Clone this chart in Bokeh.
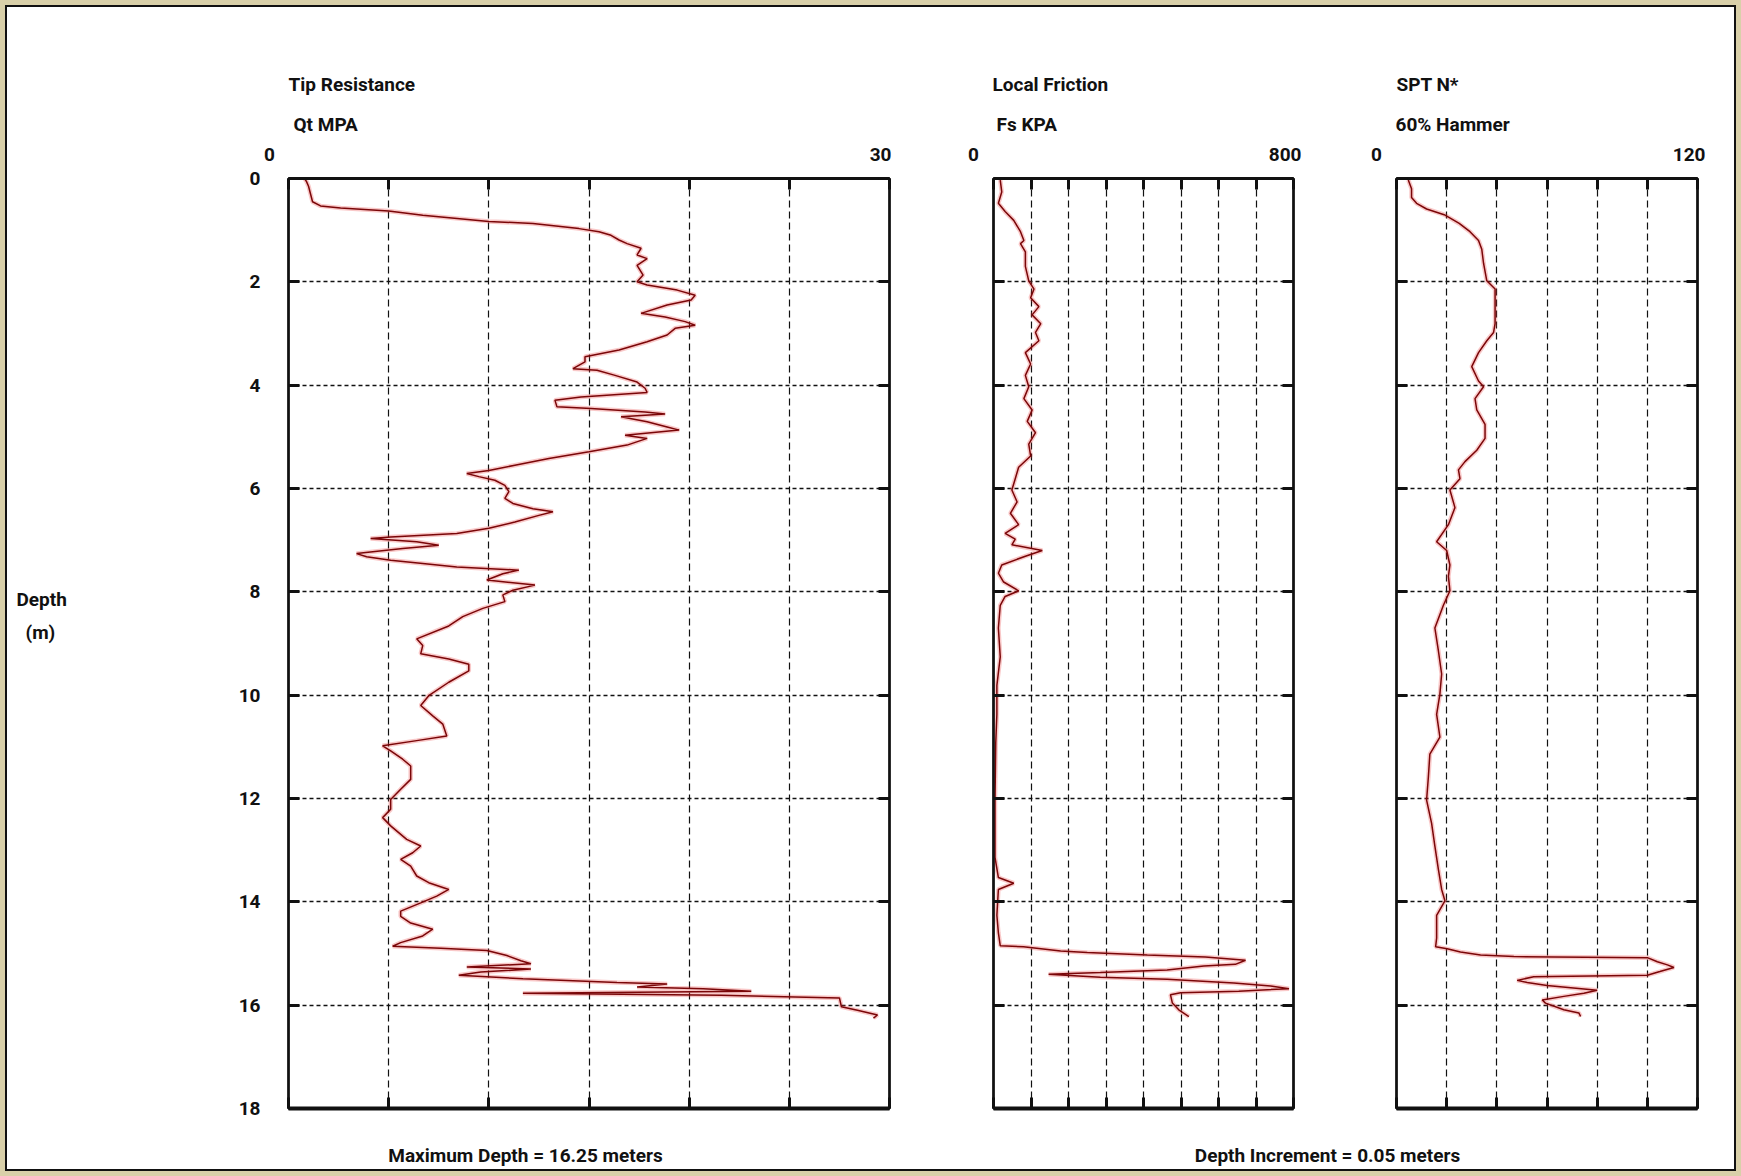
from bokeh.plotting import figure
from bokeh.models import Range1d, FixedTicker, LinearAxis, Label, CustomLabelingPolicy
from bokeh.layouts import row, column
from bokeh.embed import file_html
from bokeh.resources import INLINE

# ---------------- data ----------------
depth_ticks = [0, 2, 4, 6, 8, 10, 12, 14, 16, 18]
depth_grid = [2, 4, 6, 8, 10, 12, 14, 16]

qt_ticks = [0, 5, 10, 15, 20, 25, 30]
fs_ticks = [0, 100, 200, 300, 400, 500, 600, 700, 800]
spt_ticks = [0, 20, 40, 60, 80, 100, 120]

qt_depth = [0.00, 0.06, 0.15, 0.30, 0.45, 0.53, 0.57, 0.63, 0.71, 0.83, 0.87, 0.97, 1.03, 1.10, 1.19, 1.26,
            1.35, 1.48, 1.55, 1.68, 1.87, 2.00, 2.06, 2.16, 2.26, 2.35, 2.45, 2.61, 2.68, 2.77, 2.84, 2.90,
            3.03, 3.16, 3.32, 3.45, 3.55, 3.68, 3.71, 3.81, 3.94, 4.06, 4.14, 4.23, 4.29, 4.42, 4.45, 4.52,
            4.56, 4.61, 4.71, 4.81, 4.87, 4.97, 5.03, 5.16, 5.29, 5.42, 5.55, 5.65, 5.71, 5.77, 5.84, 5.94,
            6.06, 6.19, 6.29, 6.39, 6.45, 6.52, 6.65, 6.77, 6.87, 6.94, 6.97, 7.03, 7.10, 7.16, 7.26, 7.32,
            7.39, 7.45, 7.52, 7.58, 7.65, 7.77, 7.87, 7.97, 8.06, 8.19, 8.32, 8.48, 8.66, 8.91, 9.04, 9.20,
            9.30, 9.40, 9.53, 9.75, 10.01, 10.20, 10.40, 10.56, 10.79, 10.88, 10.98, 11.08, 11.24, 11.37,
            11.63, 11.82, 12.02, 12.21, 12.37, 12.53, 12.79, 12.92, 13.05, 13.18, 13.31, 13.50, 13.63, 13.76,
            13.89, 14.02, 14.18, 14.28, 14.41, 14.53, 14.66, 14.79, 14.86, 14.90, 14.94, 15.04, 15.14, 15.20,
            15.26, 15.30, 15.36, 15.42, 15.49, 15.56, 15.59, 15.65, 15.68, 15.73, 15.77, 15.81, 15.86, 16.03,
            16.10, 16.19, 16.25]
qt_value = [0.8, 0.9, 1.0, 1.1, 1.2, 1.6, 2.6, 5.0, 6.7, 10.0, 12.2, 14.5, 15.5, 16.1, 16.5, 16.9,
            17.6, 17.4, 17.9, 17.4, 17.7, 17.4, 17.9, 19.4, 20.3, 20.1, 18.9, 17.6, 18.8, 19.8, 20.3, 19.3,
            18.9, 17.9, 16.5, 14.8, 14.8, 14.2, 15.4, 16.3, 17.4, 17.8, 17.9, 14.6, 13.3, 13.4, 15.1, 17.8,
            18.8, 16.6, 17.9, 18.9, 19.5, 16.8, 17.9, 16.9, 15.0, 13.0, 11.3, 10.0, 8.9, 9.5, 10.3, 10.8,
            11.0, 10.8, 11.2, 12.2, 13.2, 12.5, 11.3, 10.0, 8.4, 5.1, 4.1, 6.4, 7.5, 5.7, 3.4, 3.9,
            5.1, 6.7, 8.4, 11.5, 10.7, 9.9, 12.3, 11.2, 10.7, 10.8, 9.7, 8.7, 8.0, 6.4, 6.7, 6.6,
            8.0, 9.0, 9.0, 8.0, 7.0, 6.6, 7.2, 7.7, 7.9, 6.4, 4.7, 5.1, 5.7, 6.1,
            6.1, 5.6, 5.1, 5.1, 4.7, 5.1, 5.9, 6.6, 6.2, 5.6, 6.1, 6.4, 7.0, 8.0,
            7.4, 6.6, 5.6, 5.6, 6.1, 7.2, 6.7, 5.6, 5.2, 7.6, 9.9, 10.9, 11.6, 12.1,
            8.9, 12.1, 9.6, 8.5, 11.7, 16.4, 18.9, 17.4, 20.7, 23.1, 11.7, 21.6, 27.5, 27.6,
            28.4, 29.4, 29.2]

fs_depth = [0.03, 0.26, 0.48, 0.64, 0.81, 1.03, 1.20, 1.26, 1.42, 1.70, 1.98, 2.14, 2.31, 2.48, 2.64, 2.81,
            2.98, 3.14, 3.37, 3.59, 3.81, 4.03, 4.26, 4.48, 4.70, 4.92, 5.14, 5.37, 5.59, 5.81, 6.03, 6.26,
            6.48, 6.70, 6.87, 6.98, 7.09, 7.20, 7.31, 7.48, 7.64, 7.81, 7.98, 8.09, 8.26, 8.70, 9.26, 9.81,
            10.37, 10.92, 12.03, 13.14, 13.53, 13.64, 13.76, 14.26, 14.60, 14.85, 14.87, 14.95, 14.98, 15.03,
            15.07, 15.13, 15.21, 15.24, 15.32, 15.37, 15.40, 15.46, 15.50, 15.57, 15.63, 15.68, 15.73, 15.76,
            15.80, 15.96, 16.09, 16.22]
fs_value = [18, 22, 13, 31, 54, 72, 81, 72, 85, 85, 94, 108, 99, 121, 103, 126,
            112, 121, 85, 99, 85, 94, 81, 103, 90, 112, 94, 99, 67, 58, 49, 63,
            45, 67, 31, 58, 49, 130, 85, 22, 13, 27, 67, 31, 18, 13, 18, 9,
            9, 6, 4, 4, 13, 54, 13, 9, 13, 18, 80, 179, 250, 410,
            565, 672, 645, 561, 463, 285, 147, 285, 463, 641, 739, 788, 654, 499,
            472, 477, 494, 521]

spt_depth = [0.03, 0.20, 0.37, 0.48, 0.59, 0.70, 0.87, 1.03, 1.20, 1.37, 1.64, 1.98, 2.14, 2.48, 2.81, 2.98,
             3.14, 3.37, 3.64, 3.92, 4.03, 4.26, 4.48, 4.76, 5.03, 5.26, 5.48, 5.64, 5.81, 6.03, 6.37, 6.70,
             7.03, 7.20, 7.48, 7.70, 7.98, 8.26, 8.70, 9.14, 9.59, 9.98, 10.37, 10.81, 11.14, 11.59, 12.03,
             12.48, 12.92, 13.37, 13.76, 13.98, 14.26, 14.70, 14.87, 14.91, 14.97, 15.03, 15.06, 15.08, 15.16,
             15.22, 15.27, 15.35, 15.42, 15.45, 15.52, 15.56, 15.62, 15.71, 15.77, 15.83, 15.90, 15.96, 16.09,
             16.15, 16.22]
spt_value = [4.7, 6.0, 6.0, 8.0, 12.0, 19.0, 25.0, 29.3, 32.7, 34.0, 34.7, 36.0, 39.3, 39.3, 39.3, 38.7,
             36.0, 32.7, 30.0, 32.7, 34.7, 31.3, 32.0, 35.3, 35.3, 32.0, 27.3, 24.7, 25.3, 21.3, 23.3, 20.7,
             16.0, 20.0, 21.3, 20.7, 21.3, 18.7, 15.3, 16.7, 18.0, 17.3, 16.0, 17.3, 13.3, 12.7, 12.0,
             14.0, 15.3, 16.7, 18.0, 19.3, 16.0, 16.0, 15.6, 20.2, 25.5, 33.5, 46.8, 100.0, 104.0,
             108.0, 110.6, 105.0, 100.0, 54.7, 48.1, 52.1, 60.0, 80.0, 74.7, 66.7, 58.1, 59.4, 66.7,
             72.7, 73.4]

panel_titles = [("Tip Resistance", "Qt MPA"), ("Local Friction", "Fs KPA"), ("SPT N*", "60% Hammer")]
scale_ends = [("0", "30"), ("0", "800"), ("0", "120")]
depth_title = ("Depth", "(m)")
notes = ["Maximum Depth = 16.25 meters", "Depth Increment = 0.05 meters"]

# ---------------- style ----------------
FONT = "Roboto"
FSIZE = "19px"
INK = "#111111"
BEIGE = "#d9d0a9"
W_IN = 1727          # inner white area (page 7..1734)
HEAD_H = 160         # page y 7..167
ROW_TOP = 11         # frame top at page y 178
FRAME_H = 930
ROW_BOTTOM = 17
STRIP_H = 44
LEFT_W = 200
DEPTH_MAX = 18
NO_LABELS = CustomLabelingPolicy(code="return []")


def text_fig(w, h):
    f = figure(width=w, height=h, x_range=Range1d(0, w), y_range=Range1d(h, 0), title=None,
               x_axis_location=None, y_axis_location=None, output_backend="svg",
               toolbar_location=None, min_border=0)
    f.grid.visible = False
    f.outline_line_color = None
    f.background_fill_color = "white"
    f.border_fill_color = "white"
    return f


def put(f, x, y, text, align="left", size=FSIZE):
    f.add_layout(Label(x=x, y=y, text=text, text_align=align, text_baseline="alphabetic",
                       text_font=FONT, text_font_style="bold", text_font_size=size,
                       text_color=INK))


def style_axis(ax, ticks, width, labels=False):
    ax.ticker = FixedTicker(ticks=ticks)
    ax.axis_line_color = INK
    ax.axis_line_width = width
    ax.major_tick_in = 11
    ax.major_tick_out = 0
    ax.major_tick_line_width = 3
    ax.major_tick_line_color = INK
    ax.minor_tick_in = 0
    ax.minor_tick_out = 0
    if labels:
        ax.major_label_text_font = FONT
        ax.major_label_text_font_style = "bold"
        ax.major_label_text_font_size = FSIZE
        ax.major_label_text_color = INK
        ax.major_label_standoff = 28
    else:
        ax.major_label_policy = NO_LABELS
        ax.major_label_text_font_size = "1px"
        ax.major_label_standoff = 0


def panel(xmax, ticks, depth, vals, border_left, frame_w, border_right, ylabels):
    p = figure(frame_width=frame_w, frame_height=FRAME_H, title=None,
               min_border_left=border_left, min_border_right=border_right,
               min_border_top=ROW_TOP, min_border_bottom=ROW_BOTTOM,
               x_range=Range1d(0, xmax), y_range=Range1d(DEPTH_MAX, 0),
               output_backend="svg", toolbar_location=None)
    p.background_fill_color = "white"
    p.border_fill_color = "white"
    p.outline_line_color = INK
    p.outline_line_width = 2

    style_axis(p.xaxis[0], ticks, 4)
    style_axis(p.yaxis[0], depth_ticks, 2.5, labels=ylabels)
    top = LinearAxis()
    style_axis(top, ticks, 3)
    p.add_layout(top, "above")
    right = LinearAxis()
    style_axis(right, depth_ticks, 2.5)
    p.add_layout(right, "right")

    p.xgrid.ticker = FixedTicker(ticks=ticks[1:-1])
    p.xgrid.grid_line_color = INK
    p.xgrid.grid_line_width = 1.2
    p.xgrid.grid_line_dash = "7 4"
    p.ygrid.ticker = FixedTicker(ticks=depth_grid)
    p.ygrid.grid_line_color = INK
    p.ygrid.grid_line_width = 1.3
    p.ygrid.grid_line_dash = "4 3"

    p.line(vals, depth, line_color="#e8393a", line_width=4.5, line_alpha=0.28)
    p.line(vals, depth, line_color="#7a0608", line_width=1.5)
    return p


# panels (frames at page x 288..889, 993..1293, 1396..1697)
p1 = panel(30, qt_ticks, qt_depth, qt_value, 81, 601, 51, True)
p2 = panel(800, fs_ticks, fs_depth, fs_value, 53, 300, 52, False)
p3 = panel(120, spt_ticks, spt_depth, spt_value, 51, 301, 37, False)

# header with panel titles and scale ends (x = page px - 7)
head = text_fig(W_IN, HEAD_H)
title_x = [(281, 286), (985, 989), (1389, 1388)]
for (t1, t2), (x1, x2) in zip(panel_titles, title_x):
    put(head, x1, 77, t1)
    put(head, x2, 117, t2)
end_pos = [(262, 884), (966, 1294), (1369, 1698)]
for (a, b), (xa, xb) in zip(scale_ends, end_pos):
    put(head, xa, 147, a, "center")
    put(head, xb, 147, b, "right")

# left strip with the depth title: same frame geometry as the panels (x in px, y in metres)
left = figure(frame_width=LEFT_W, frame_height=FRAME_H, title=None,
              min_border_left=0, min_border_right=0,
              min_border_top=ROW_TOP, min_border_bottom=ROW_BOTTOM,
              x_range=Range1d(0, LEFT_W), y_range=Range1d(DEPTH_MAX, 0),
              x_axis_location=None, y_axis_location=None,
              output_backend="svg", toolbar_location=None)
left.grid.visible = False
left.outline_line_color = None
left.background_fill_color = "white"
left.border_fill_color = "white"
put(left, 9, 8.14, depth_title[0])
put(left, 18, 8.78, depth_title[1])

# bottom strip with the notes
strip = text_fig(W_IN, STRIP_H)
put(strip, 518, 30, notes[0], "center")
put(strip, 1320, 30, notes[1], "center")

content = column(head, row(left, p1, p2, p3, spacing=0), strip, spacing=0, margin=2,
                 styles={"background-color": "white"})
mid = column(content, margin=5, styles={"background-color": INK})
outer = column(mid, styles={"background-color": BEIGE})

open("out.html", "w").write(file_html(outer, INLINE))
